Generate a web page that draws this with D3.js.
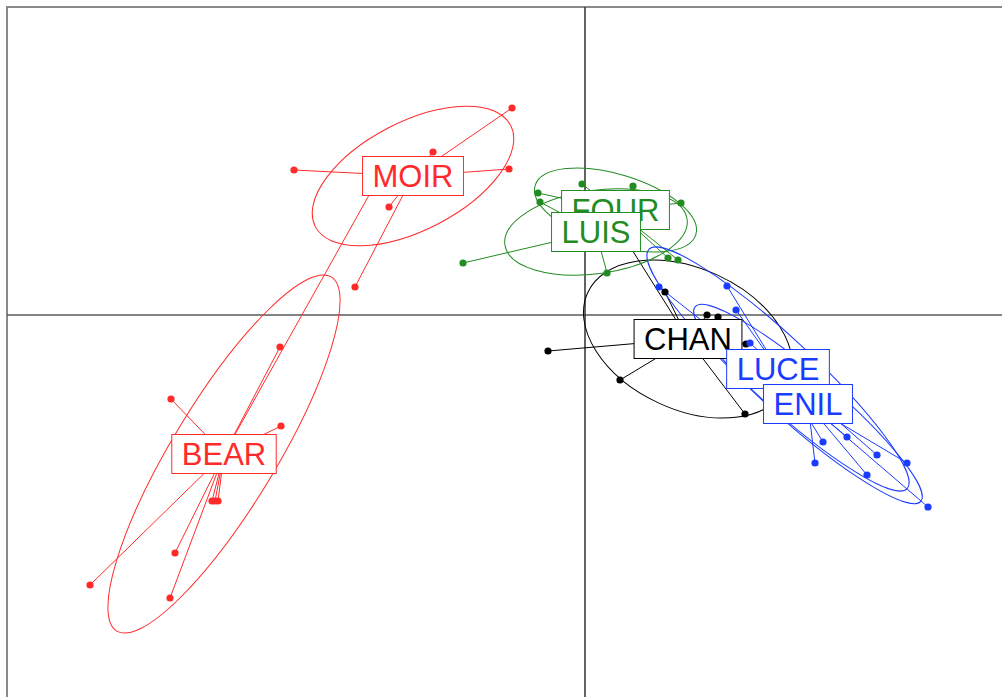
<!DOCTYPE html>
<html>
<head>
<meta charset="utf-8">
<script src="https://cdn.jsdelivr.net/npm/d3@7"></script>
<style>
  html, body { margin: 0; padding: 0; background: #ffffff; }
  svg { display: block; }
</style>
</head>
<body>
<svg id="chart" width="1002" height="697"></svg>
<script>
// Classes (drawing order of labels), their colours and centroids
const classes = ["BEAR", "MOIR", "CHAN", "FOUR", "LUIS", "LUCE", "ENIL"];
const classColors = ["#ff2b2b", "#ff2b2b", "#000000", "#228b22", "#228b22", "#1a3cff", "#1a3cff"];
const centerX = [-3.61, -1.72, 1.03, 0.305, 0.11, 1.93, 2.23];
const centerY = [-1.39, 1.39, -0.24, 1.05, 0.83, -0.54, -0.89];

// Ellipse semi-axes and orientation (degrees, counter-clockwise)
const ellipseA = [2.07, 1.10, 1.105, 0.84, 0.92, 1.76, 1.49];
const ellipseB = [0.52, 0.54, 0.704, 0.356, 0.416, 0.33, 0.28];
const ellipseAngle = [58.8, 27.4, -24.9, -17, 8, -42.8, -40.8];

// Individual scores and the class of each row
const pointX = [
  -3.05, -4.14, -3.04, -3.73, -3.70, -3.67, -4.10, -4.95, -4.15, -2.03,
  -0.73, -1.52, -2.91, -0.76, -1.96, -2.30,
  -0.37, 0.35, 1.60, 0.80, 1.22, 1.33, 1.61, 0.39,
  -0.47, -0.03, 0.48, 0.96, 0.83, 0.93,
  -0.45, -1.22, 0.22,
  1.42, 1.51, 2.82, 2.92, 2.38, 1.65,
  0.74, 2.30, 2.62, 3.22, 3.43
];
const pointY = [
  -0.32, -0.84, -1.11, -1.86, -1.86, -1.86, -2.38, -2.70, -2.83, 1.43,
  2.07, 1.63, 1.45, 1.46, 1.08, 0.28,
  -0.36, -0.65, -0.99, 0.23, 0.00, -0.02, -0.29, 0.78,
  1.22, 1.31, 1.29, 1.12, 0.57, 0.55,
  1.13, 0.52, 0.42,
  0.29, 0.05, -1.60, -1.40, -1.27, -0.28,
  0.28, -1.48, -1.22, -1.48, -1.92
];
const pointClass = [
  "BEAR", "BEAR", "BEAR", "BEAR", "BEAR", "BEAR", "BEAR", "BEAR", "BEAR", "BEAR",
  "MOIR", "MOIR", "MOIR", "MOIR", "MOIR", "MOIR",
  "CHAN", "CHAN", "CHAN", "CHAN", "CHAN", "CHAN", "CHAN", "CHAN",
  "FOUR", "FOUR", "FOUR", "FOUR", "FOUR", "FOUR",
  "LUIS", "LUIS", "LUIS",
  "LUCE", "LUCE", "LUCE", "LUCE", "LUCE", "LUCE",
  "ENIL", "ENIL", "ENIL", "ENIL", "ENIL"
];

const svg = d3.select("#chart");

const x = d3.scaleLinear().domain([-5.78, 4.25]).range([7, 1010]);
const y = d3.scaleLinear().domain([-3.9, 3.08]).range([705, 7]);

const classIndex = new Map(classes.map((c, i) => [c, i]));
const colorOf = c => classColors[classIndex.get(c)];

// Frame and zero axes
svg.append("rect")
  .attr("x", x(-5.78)).attr("y", y(3.08))
  .attr("width", x(4.25) - x(-5.78)).attr("height", y(-3.9) - y(3.08))
  .attr("fill", "none").attr("stroke", "#8a8a8a").attr("stroke-width", 2);

svg.append("line")
  .attr("x1", x(-5.78)).attr("x2", x(4.25)).attr("y1", y(0)).attr("y2", y(0))
  .attr("stroke", "#5a5a5a").attr("stroke-width", 1.6);
svg.append("line")
  .attr("x1", x(0)).attr("x2", x(0)).attr("y1", y(3.08)).attr("y2", y(-3.9))
  .attr("stroke", "#3c3c3c").attr("stroke-width", 1.6);

// Stars: centroid to each individual
const rows = pointX.map((px, i) => ({ x: px, y: pointY[i], cls: pointClass[i] }));

svg.append("g").selectAll("line")
  .data(rows)
  .join("line")
  .attr("x1", d => x(centerX[classIndex.get(d.cls)]))
  .attr("y1", d => y(centerY[classIndex.get(d.cls)]))
  .attr("x2", d => x(d.x))
  .attr("y2", d => y(d.y))
  .attr("stroke", d => colorOf(d.cls))
  .attr("stroke-width", 1);

// Inertia ellipses
const unit = x(1) - x(0);
svg.append("g").selectAll("ellipse")
  .data(classes)
  .join("ellipse")
  .attr("transform", (c, i) => `translate(${x(centerX[i])},${y(centerY[i])}) rotate(${-ellipseAngle[i]})`)
  .attr("rx", (c, i) => ellipseA[i] * unit)
  .attr("ry", (c, i) => ellipseB[i] * unit)
  .attr("fill", "none")
  .attr("stroke", (c, i) => classColors[i])
  .attr("stroke-width", 1);

// Individuals
svg.append("g").selectAll("circle")
  .data(rows)
  .join("circle")
  .attr("cx", d => x(d.x))
  .attr("cy", d => y(d.y))
  .attr("r", 3.6)
  .attr("fill", d => colorOf(d.cls));

// Class labels in boxes
const fontSize = 31;
const labels = svg.append("g")
  .attr("font-family", "'Liberation Sans', Arial, Helvetica, sans-serif")
  .attr("font-size", fontSize);

classes.forEach((c, i) => {
  const g = labels.append("g");
  const cx = x(centerX[i]);
  const cy = y(centerY[i]);
  const rect = g.append("rect");
  const t = g.append("text")
    .attr("x", cx)
    .attr("y", cy + fontSize * 0.716 / 2)
    .attr("text-anchor", "middle")
    .attr("fill", classColors[i])
    .text(c);
  const w = t.node().getComputedTextLength();
  const padX = 10, h = 39;
  rect.attr("x", cx - w / 2 - padX)
    .attr("y", cy - h / 2)
    .attr("width", w + 2 * padX)
    .attr("height", h)
    .attr("fill", "#ffffff")
    .attr("stroke", classColors[i])
    .attr("stroke-width", 1);
});
</script>
</body>
</html>
